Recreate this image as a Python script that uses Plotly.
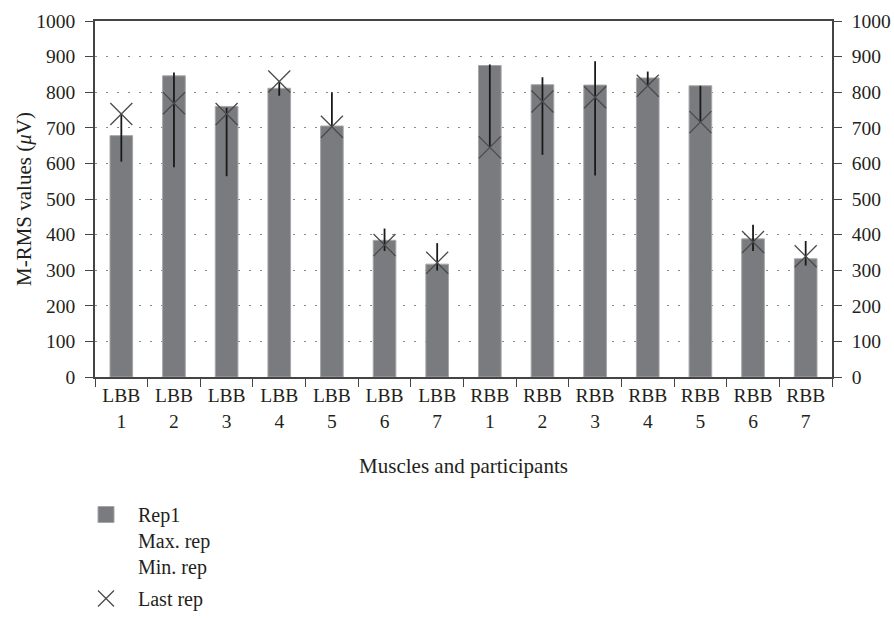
import plotly.graph_objects as go

muscles = ["LBB"] * 7 + ["RBB"] * 7
participants = [1, 2, 3, 4, 5, 6, 7, 1, 2, 3, 4, 5, 6, 7]
categories = [f"{m}<br>{p}" for m, p in zip(muscles, participants)]

rep1 = [678, 846, 760, 811, 705, 384, 317, 875, 821, 820, 840, 818, 388, 332]
max_rep = [739, 855, 756, 830, 800, 417, 376, 878, 842, 887, 858, 818, 428, 382]
min_rep = [605, 589, 564, 790, 702, 354, 299, 645, 624, 566, 818, 716, 354, 313]
last_rep = [739, 769, 739, 830, 703, 371, 321, 645, 774, 786, 818, 716, 379, 339]

legend_main = ["Rep1", "Max. rep", "Min. rep"]
legend_last = "Last rep"

y_ticks = list(range(0, 1001, 100))

FONT = "Liberation Serif"
BAR = "#7a7b7f"
TXT = "#231f20"
XCOL = "#4a4a4a"
TICK_FS = 19.5
TITLE_FS = 21
LEG_FS = 20

fig = go.Figure()

# bars
fig.add_trace(go.Bar(
    x=categories, y=rep1, name="Rep1", showlegend=False,
    marker=dict(color=BAR, line=dict(color="#a5a6a8", width=1)),
))

# min-max lines
seg_x, seg_y = [], []
for c, lo, hi in zip(categories, min_rep, max_rep):
    seg_x += [c, c, None]
    seg_y += [lo, hi, None]
fig.add_trace(go.Scatter(
    x=seg_x, y=seg_y, mode="lines", showlegend=False,
    line=dict(color="#1a1a1a", width=1.8), hoverinfo="skip",
))

# last rep markers
fig.add_trace(go.Scatter(
    x=categories, y=last_rep, mode="markers", showlegend=False,
    marker=dict(symbol="x-thin-open", size=22, color=XCOL, line=dict(color=XCOL, width=1.3)),
))

# legend entries
fig.add_trace(go.Scatter(
    x=[None], y=[None], mode="markers", name="<br>".join(legend_main),
    legend="legend",
    marker=dict(symbol="square", size=16, color=BAR, line=dict(color="#a5a6a8", width=1)),
))
fig.add_trace(go.Scatter(
    x=[None], y=[None], mode="markers", name=legend_last, legend="legend2",
    marker=dict(symbol="x-thin-open", size=16, color=XCOL, line=dict(color=XCOL, width=1.3)),
))

# invisible trace for right axis
fig.add_trace(go.Scatter(
    x=[categories[0]], y=[0], yaxis="y2", mode="markers", showlegend=False,
    marker=dict(color="rgba(0,0,0,0)"), hoverinfo="skip",
))

leg_common = dict(
    xref="container", yref="container", xanchor="left",
    font=dict(family=FONT, size=LEG_FS, color=TXT), valign="top",
    itemwidth=54, bgcolor="rgba(0,0,0,0)", maxheight=1,
)

fig.update_layout(
    width=894, height=618,
    margin=dict(l=95, r=62, t=21, b=241, autoexpand=False),
    paper_bgcolor="white", plot_bgcolor="white",
    font=dict(family=FONT, size=TICK_FS, color=TXT),
    bargap=0.57,
    showlegend=True,
    legend=dict(x=74 / 894, y=1 - 495 / 618, yanchor="top", **leg_common),
    legend2=dict(x=74 / 894, y=0, yanchor="bottom", **leg_common),
    xaxis=dict(
        type="category", categoryorder="array", categoryarray=categories,
        range=[-0.5, len(categories) - 0.5],
        tickson="boundaries", ticks="outside", ticklen=8, tickwidth=1.2,
        tickangle=0,
        tickcolor="#444", showline=True, linecolor="#444", linewidth=1.5,
        mirror=True, showgrid=False, zeroline=False,
        tickfont=dict(family=FONT, size=TICK_FS, color=TXT),
        title=dict(text="Muscles and participants", standoff=28,
                   font=dict(family=FONT, size=TITLE_FS, color=TXT)),
    ),
    yaxis=dict(
        range=[0, 1000], tickvals=y_ticks, ticks="outside", ticklen=8,
        tickwidth=1.2, tickcolor="#444", showline=True, linecolor="#444",
        linewidth=1.5, showgrid=True, gridcolor="#8a8a8a", gridwidth=1,
        griddash="2px,9px", zeroline=False, ticklabelstandoff=6,
        tickfont=dict(family=FONT, size=TICK_FS, color=TXT),
    ),
    yaxis2=dict(
        range=[0, 1000], tickvals=y_ticks, overlaying="y", side="right",
        ticks="outside", ticklen=8, tickwidth=1.2, tickcolor="#444",
        showline=True, linecolor="#444", linewidth=1.5, showgrid=False,
        zeroline=False, ticklabelstandoff=6,
        tickfont=dict(family=FONT, size=TICK_FS, color=TXT),
    ),
    annotations=[dict(
        text="M-RMS values (<i>μ</i>V)", textangle=-90,
        xref="paper", yref="paper", x=-(95 - 24) / 737, y=0.5,
        xanchor="center", yanchor="middle", showarrow=False,
        font=dict(family=FONT, size=TITLE_FS, color=TXT),
    )],
)

fig.write_html("out.html", config={"displayModeBar": False},
               post_script="document.body.style.margin='0';")
